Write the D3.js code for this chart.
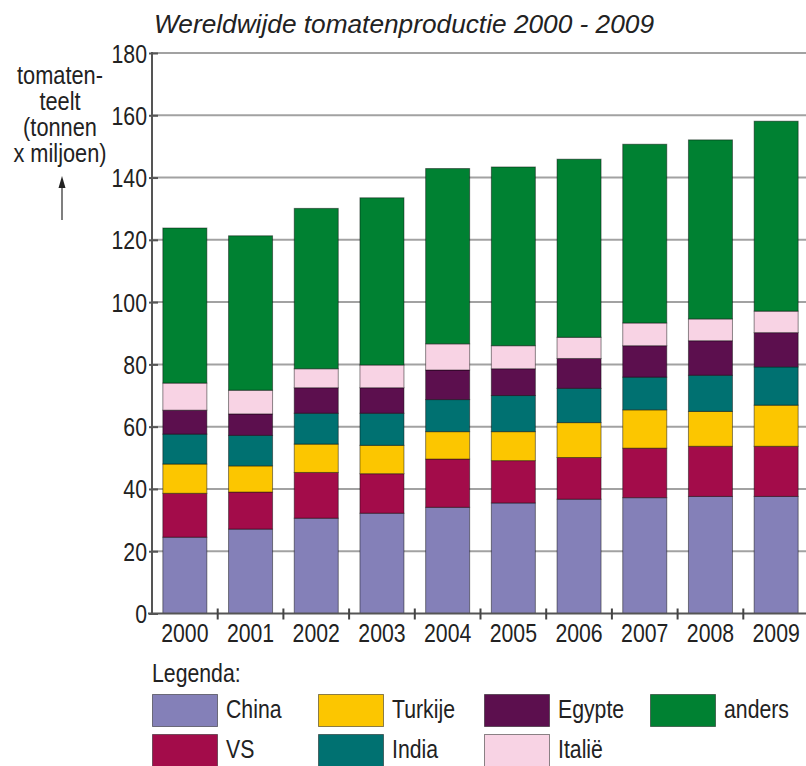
<!DOCTYPE html>
<html>
<head>
<meta charset="utf-8">
<script src="https://cdn.jsdelivr.net/npm/d3@7"></script>
<style>
  html, body { margin: 0; padding: 0; background: #fff; }
  svg { display: block; font-family: "Liberation Sans", Arial, sans-serif; }
</style>
</head>
<body>
<svg id="chart" width="806" height="766"></svg>
<script>
// ---- data ----
const years = ["2000","2001","2002","2003","2004","2005","2006","2007","2008","2009"];
const seriesNames = ["China","VS","Turkije","India","Egypte","Italië","anders"];
const china   = [24.5, 27.1, 30.6, 32.2, 34.1, 35.5, 36.7, 37.2, 37.6, 37.6];
const vs      = [14.1, 11.9, 14.7, 12.7, 15.5, 13.6, 13.4, 15.9, 16.1, 16.1];
const turkije = [ 9.4,  8.4,  9.1,  9.1,  8.8,  9.3, 11.2, 12.3, 11.2, 13.2];
const india   = [ 9.6,  9.8,  9.9, 10.3, 10.3, 11.6, 11.0, 10.5, 11.6, 12.3];
const egypte  = [ 7.7,  6.9,  8.2,  8.2,  9.5,  8.6,  9.6, 10.1, 11.1, 11.0];
const italie  = [ 8.7,  7.6,  6.1,  7.3,  8.4,  7.4,  6.8,  7.3,  7.0,  6.9];
const anders  = [49.8, 49.6, 51.5, 53.7, 56.3, 57.4, 57.2, 57.4, 57.5, 61.0];
const yTicks  = [0, 20, 40, 60, 80, 100, 120, 140, 160, 180];
const titleText = "Wereldwijde tomatenproductie 2000 - 2009";
const yLabelLines = ["tomaten-", "teelt", "(tonnen", "x miljoen)"];
const legendTitle = "Legenda:";

const colors = {
  "China": "#8480b8", "VS": "#a30c4a", "Turkije": "#fcc600", "India": "#007171",
  "Egypte": "#5c0f4e", "Italië": "#f8d3e4", "anders": "#008132"
};

const valuesBySeries = [china, vs, turkije, india, egypte, italie, anders];
const table = years.map((yr, i) => {
  const row = { year: yr };
  seriesNames.forEach((s, k) => row[s] = valuesBySeries[k][i]);
  return row;
});

// ---- layout ----
const svg = d3.select("#chart");
const plotLeft = 152, plotRight = 809, plotTop = 53, plotBottom = 613.5;
const textColor = "#222";
const NARROW = 0.85;

function narrow(sel, f) {
  sel.each(function() {
    const len = this.getComputedTextLength();
    d3.select(this).attr("textLength", len * f).attr("lengthAdjust", "spacingAndGlyphs");
  });
}

const x = d3.scaleBand().domain(years).range([plotLeft, plotRight]).paddingInner(0.33).paddingOuter(0.165);
const y = d3.scaleLinear().domain([0, 180]).range([plotBottom, plotTop]);

// gridlines
svg.append("g").selectAll("line").data(yTicks.filter(d => d > 0)).join("line")
  .attr("x1", plotLeft).attr("x2", 806)
  .attr("y1", d => y(d)).attr("y2", d => y(d))
  .attr("stroke", "#a2a2a2").attr("stroke-width", 2);

// stacked bars
const stack = d3.stack().keys(seriesNames)(table);
svg.append("g").selectAll("g").data(stack).join("g")
  .attr("fill", d => colors[d.key])
  .selectAll("rect").data(d => d).join("rect")
  .attr("x", d => x(d.data.year))
  .attr("width", x.bandwidth())
  .attr("y", d => y(d[1]))
  .attr("height", d => y(d[0]) - y(d[1]))
  .attr("stroke", "rgba(0,0,0,0.45)").attr("stroke-width", 1);

// y axis
const yAxis = d3.axisLeft(y).tickValues(yTicks).tickSize(0).tickPadding(5);
const yg = svg.append("g").attr("transform", `translate(${plotLeft},0)`).call(yAxis);
yg.select(".domain").remove();
yg.selectAll("text").attr("font-size", 25).attr("fill", textColor)
  .attr("font-family", "Liberation Sans, Arial, sans-serif").attr("dy", "0.36em");
narrow(yg.selectAll("text"), NARROW);
yg.selectAll(".tick").append("line")
  .attr("x1", -3).attr("x2", 6).attr("y1", 0).attr("y2", 0)
  .attr("stroke", "#555").attr("stroke-width", 2);
svg.append("line").attr("x1", plotLeft).attr("x2", plotLeft).attr("y1", plotTop - 1).attr("y2", plotBottom + 1)
  .attr("stroke", "#555").attr("stroke-width", 2);

// x axis
const xAxis = d3.axisBottom(x).tickSize(0).tickPadding(10);
const xg = svg.append("g").attr("transform", `translate(0,${plotBottom})`).call(xAxis);
xg.select(".domain").remove();
xg.selectAll("text").attr("font-size", 25).attr("fill", textColor)
  .attr("font-family", "Liberation Sans, Arial, sans-serif").attr("dy", "0.72em");
narrow(xg.selectAll("text"), NARROW);
svg.append("line").attr("x1", plotLeft - 4).attr("x2", 806).attr("y1", plotBottom).attr("y2", plotBottom)
  .attr("stroke", "#555").attr("stroke-width", 2);
const half = x.step() * x.paddingInner() / 2;
svg.append("g").selectAll("line").data(years.slice(1)).join("line")
  .attr("x1", d => x(d) - half).attr("x2", d => x(d) - half)
  .attr("y1", plotBottom - 5).attr("y2", plotBottom + 6)
  .attr("stroke", "#444").attr("stroke-width", 2);

// title
svg.append("text").attr("x", 154).attr("y", 33)
  .attr("font-size", 26).attr("font-style", "italic").attr("fill", textColor)
  .attr("textLength", 500).attr("lengthAdjust", "spacingAndGlyphs")
  .text(titleText);

// y label
const yl = svg.append("g");
yl.selectAll("text").data(yLabelLines).join("text")
  .attr("x", 60).attr("y", (d, i) => 84 + i * 26)
  .attr("text-anchor", "middle").attr("font-size", 25).attr("fill", textColor)
  .text(d => d);
narrow(yl.selectAll("text"), 0.87);
// arrow
svg.append("line").attr("x1", 62).attr("x2", 62).attr("y1", 220).attr("y2", 185)
  .attr("stroke", "#555").attr("stroke-width", 1.5);
svg.append("path").attr("d", "M62,176 L58.5,188 L65.5,188 Z").attr("fill", "#222");

// legend
const lt = svg.append("text").attr("x", 152).attr("y", 682)
  .attr("font-size", 25).attr("fill", textColor).text(legendTitle);
narrow(lt, NARROW);
const lg = svg.append("g").selectAll("g").data(seriesNames).join("g")
  .attr("transform", (d, i) => `translate(${152 + Math.floor(i / 2) * 166},${694 + (i % 2) * 40})`);
lg.append("rect").attr("x", 0.5).attr("y", 0.5).attr("width", 65).attr("height", 32)
  .attr("fill", d => colors[d]).attr("stroke", "rgba(0,0,0,0.45)").attr("stroke-width", 1);
lg.append("text").attr("x", 74).attr("y", 24)
  .attr("font-size", 25).attr("fill", textColor).text(d => d);
narrow(lg.selectAll("text"), NARROW);
</script>
</body>
</html>
